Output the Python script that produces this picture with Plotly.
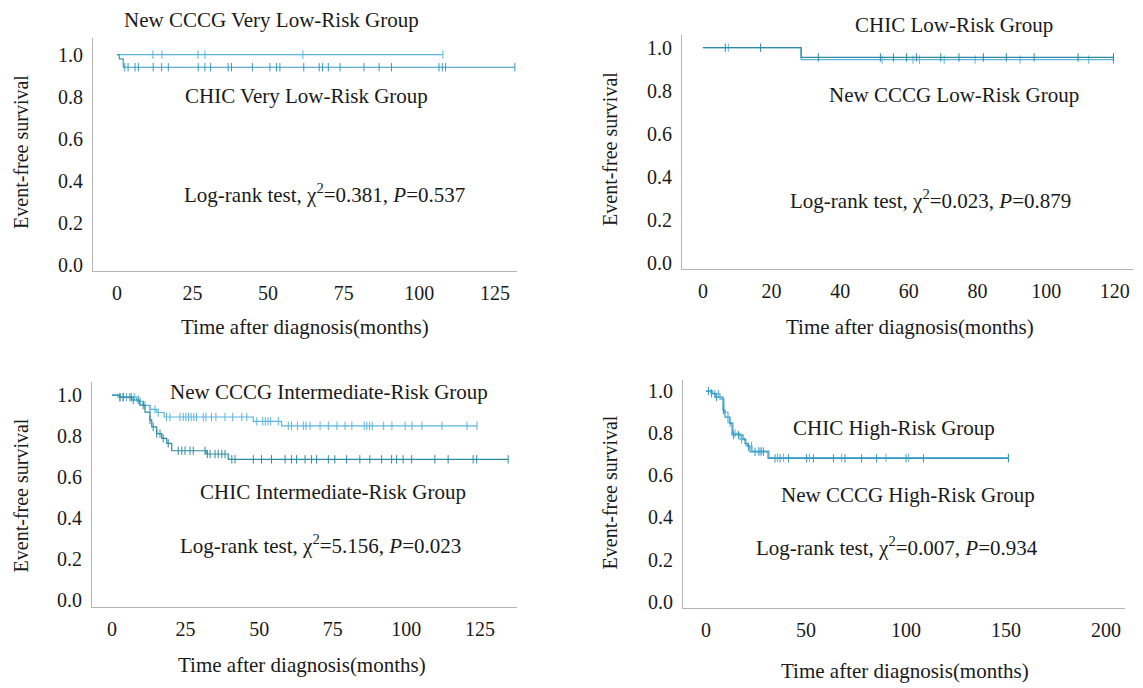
import plotly.graph_objects as go

# page has an 8px body margin, so the figure is drawn 8px in from the top-left corner
OFF = 8
W, H = 1143 - OFF, 688 - OFF
FONT = "Liberation Serif"
LIGHT = "#5ab4e0"
TEAL = "#3899bd"
DARK = "#2c8ba3"
AXC = "#b4b4b4"
TXT = "#1a1a1a"

# ---------------- Panel A: Very low risk ----------------
vlr_new_t = [0]
vlr_new_s = [1.0]
vlr_new_end = 107.8
vlr_new_cens = [11.9, 14.9, 26.8, 29.1, 61.5, 107.8]

vlr_chic_t = [0, 0.8, 2.1]
vlr_chic_s = [1.0, 0.98, 0.94]
vlr_chic_end = 131.6
vlr_chic_cens = [2.6, 3.7, 6.0, 7.1, 12.0, 14.8, 17.0, 26.9, 29.1, 31.0, 36.8, 37.9,
                 44.8, 50.6, 52.8, 53.9, 61.8, 66.9, 68.0, 69.9, 73.8, 81.7, 86.7,
                 90.8, 106.5, 107.6, 108.7, 131.6]

# ---------------- Panel B: Low risk ----------------
lr_chic_t = [0, 28.6]
lr_chic_s = [1.0, 0.955]
lr_chic_end = 119.6
lr_chic_cens = [6.5, 16.8, 33.6, 51.7, 55.5, 59.3, 62.2, 69.3, 74.6, 81.7, 88.4,
                96.5, 109.3, 119.6]

lr_new_t = [0, 28.6]
lr_new_s = [1.0, 0.945]
lr_new_end = 119.6
lr_new_cens = [7.4, 52.2, 61.2, 63.1, 70.3, 79.3, 92.4, 112.4, 119.6]

# ---------------- Panel C: Intermediate risk ----------------
ir_new_t = [0, 2.0, 8.4, 10.6, 12.9, 15.2, 17.7, 48.0, 57.6]
ir_new_s = [1.0, 0.99, 0.97, 0.95, 0.93, 0.915, 0.893, 0.872, 0.85]
ir_new_end = 124.0
ir_new_cens = [2.7, 3.8, 4.9, 6.6, 7.7, 9.5, 11.2, 12.9, 14.6, 15.7, 18.5, 19.7,
               23.1, 24.2, 25.1, 26.0, 26.9, 27.8, 28.7, 31.0, 31.9, 33.8, 35.3,
               38.4, 41.0, 44.1, 45.8, 49.2, 51.2, 52.1, 53.0, 53.9, 56.5, 59.9,
               61.0, 63.0, 65.0, 65.9, 67.3, 70.7, 73.5, 76.4, 79.2, 81.5, 85.7,
               86.6, 87.5, 88.4, 92.3, 95.1, 99.6, 101.9, 105.3, 112.1, 120.6, 124.0]

ir_chic_t = [0, 2.7, 6.7, 9.5, 11.2, 12.9, 13.5, 15.2, 16.9, 18.6, 20.3, 32.0, 39.5]
ir_chic_s = [1.0, 0.99, 0.976, 0.951, 0.917, 0.879, 0.845, 0.812, 0.788, 0.764,
             0.728, 0.712, 0.686]
ir_chic_end = 134.6
ir_chic_cens = [2.7, 3.8, 6.1, 7.2, 8.9, 10.6, 12.9, 14.0, 15.2, 16.3, 17.4, 19.1,
                22.5, 23.7, 24.8, 26.5, 27.6, 31.6, 32.4, 33.3, 35.0, 36.1, 37.3,
                38.4, 40.7, 41.8, 48.0, 50.8, 54.2, 58.8, 61.0, 62.7, 65.6, 67.8,
                69.5, 73.5, 75.7, 79.7, 84.2, 87.6, 91.6, 95.0, 96.7, 98.9, 101.8,
                109.7, 114.2, 122.7, 123.9, 134.6]

# ---------------- Panel D: High risk ----------------
hr_chic_t = [0, 2.5, 4.5, 8.5, 9.5, 12.0, 13.0, 18.5, 19.5, 21.0, 22.0, 31.0]
hr_chic_s = [1.0, 0.99, 0.972, 0.91, 0.877, 0.846, 0.792, 0.775, 0.751, 0.736,
             0.712, 0.681]
hr_chic_end = 151.2
hr_chic_cens = [1.2, 2.8, 5.3, 8.7, 13.7, 16.2, 21.2, 24.5, 27.0, 28.7, 34.5, 37.0,
                41.2, 50.3, 53.7, 63.7, 69.5, 77.8, 85.3, 100.0, 108.7, 151.2]

hr_new_t = [0, 3.5, 7.0, 9.0, 11.0, 13.5, 17.0, 20.0, 23.0, 31.5]
hr_new_s = [1.0, 0.987, 0.962, 0.9, 0.85, 0.8, 0.77, 0.74, 0.715, 0.684]
hr_new_end = 151.2
hr_new_cens = [4.5, 6.2, 12.0, 14.5, 17.8, 22.8, 26.2, 27.8, 35.7, 38.7, 51.7,
               67.8, 90.0, 101.2, 151.2]

Y_TICKS = [0.0, 0.2, 0.4, 0.6, 0.8, 1.0]
X_TICKS_A = [0, 25, 50, 75, 100, 125]
X_TICKS_B = [0, 20, 40, 60, 80, 100, 120]
X_TICKS_C = [0, 25, 50, 75, 100, 125]
X_TICKS_D = [0, 50, 100, 150, 200]


def surv_at(t, times, surv):
    val = surv[0]
    for tt, ss in zip(times, surv):
        if tt <= t:
            val = ss
    return val


fig = go.Figure()


def add_curve(times, surv, end, cens, color, ax):
    xs = list(times) + [end]
    ys = list(surv) + [surv[-1]]
    xa = "x" if ax == 1 else f"x{ax}"
    ya = "y" if ax == 1 else f"y{ax}"
    fig.add_trace(go.Scatter(x=xs, y=ys, mode="lines", line=dict(color=color, width=1.2, shape="hv"),
                             xaxis=xa, yaxis=ya, showlegend=False, hoverinfo="skip"))
    fig.add_trace(go.Scatter(x=cens, y=[surv_at(c, times, surv) for c in cens], mode="markers",
                             marker=dict(symbol="line-ns", size=6, line=dict(color=color, width=1)),
                             xaxis=xa, yaxis=ya, showlegend=False, hoverinfo="skip"))


add_curve(vlr_new_t, vlr_new_s, vlr_new_end, vlr_new_cens, LIGHT, 1)
add_curve(vlr_chic_t, vlr_chic_s, vlr_chic_end, vlr_chic_cens, TEAL, 1)
add_curve(lr_new_t, lr_new_s, lr_new_end, lr_new_cens, LIGHT, 2)
add_curve(lr_chic_t, lr_chic_s, lr_chic_end, lr_chic_cens, DARK, 2)
add_curve(ir_new_t, ir_new_s, ir_new_end, ir_new_cens, LIGHT, 3)
add_curve(ir_chic_t, ir_chic_s, ir_chic_end, ir_chic_cens, DARK, 3)
add_curve(hr_new_t, hr_new_s, hr_new_end, hr_new_cens, LIGHT, 4)
add_curve(hr_chic_t, hr_chic_s, hr_chic_end, hr_chic_cens, TEAL, 4)


def px_x(p):
    return (p - OFF) / W


def px_y(p):
    return 1 - (p - OFF) / H


tickfont = dict(family=FONT, size=20, color=TXT)


def axes(xd, yd, xr, yr, xt):
    xa = dict(domain=[px_x(xd[0]), px_x(xd[1])], range=xr, tickvals=xt, showline=True,
              linecolor=AXC, linewidth=1, ticks="", showgrid=False, zeroline=False,
              tickfont=tickfont, ticklabelstandoff=4, ticklabeloverflow="allow")
    ya = dict(domain=[px_y(yd[1]), px_y(yd[0])], range=yr, tickvals=Y_TICKS, tickformat=".1f",
              showline=True, linecolor=AXC, linewidth=1, ticks="", showgrid=False,
              zeroline=False, tickfont=tickfont, ticklabelstandoff=5)
    return xa, ya


xa1, ya1 = axes((93, 517), (38, 273), [-7.9, 132.3], [-0.028, 1.08], X_TICKS_A)
xa2, ya2 = axes((682, 1133), (35, 271), [-6.1, 125.3], [-0.028, 1.06], X_TICKS_B)
xa3, ya3 = axes((92, 517), (385, 611), [-6.8, 137.6], [-0.034, 1.063], X_TICKS_C)
xa4, ya4 = axes((683, 1125), (383, 612), [-11.5, 209.5], [-0.028, 1.052], X_TICKS_D)
xa1["anchor"] = "y"; ya1["anchor"] = "x"
xa2["anchor"] = "y2"; ya2["anchor"] = "x2"
xa3["anchor"] = "y3"; ya3["anchor"] = "x3"
xa4["anchor"] = "y4"; ya4["anchor"] = "x4"

annots = []


def txt(s, x, y, angle=0, size=21):
    annots.append(dict(text=s, x=px_x(x), y=px_y(y), xref="paper", yref="paper",
                       xanchor="center", yanchor="middle", showarrow=False, textangle=angle,
                       font=dict(family=FONT, size=size, color=TXT)))


txt("New CCCG Very Low-Risk Group", 271, 20)
txt("CHIC Very Low-Risk Group", 306, 97)
txt("Log-rank test, χ<sup>2</sup>=0.381, <i>P</i>=0.537", 324, 195)
txt("CHIC Low-Risk Group", 954, 25)
txt("New CCCG Low-Risk Group", 954, 96)
txt("Log-rank test, χ<sup>2</sup>=0.023, <i>P</i>=0.879", 930, 201)
txt("New CCCG Intermediate-Risk Group", 329, 395)
txt("CHIC Intermediate-Risk Group", 333, 496)
txt("Log-rank test, χ<sup>2</sup>=5.156, <i>P</i>=0.023", 320, 548)
txt("CHIC High-Risk Group", 894, 431)
txt("New CCCG High-Risk Group", 908, 499)
txt("Log-rank test, χ<sup>2</sup>=0.007, <i>P</i>=0.934", 897, 550)

for (x, y) in [(21, 153), (610, 150), (21, 499), (610, 496)]:
    txt("Event-free survival", x, y, angle=-90, size=20)
for (x, y) in [(305, 329), (910, 329), (302, 670), (905, 676)]:
    txt("Time after diagnosis(months)", x, y)

fig.update_layout(width=W, height=H, margin=dict(l=0, r=0, t=0, b=0),
                  paper_bgcolor="white", plot_bgcolor="white",
                  xaxis=xa1, yaxis=ya1, xaxis2=xa2, yaxis2=ya2,
                  xaxis3=xa3, yaxis3=ya3, xaxis4=xa4, yaxis4=ya4,
                  annotations=annots, showlegend=False)

fig.write_html("out.html")
